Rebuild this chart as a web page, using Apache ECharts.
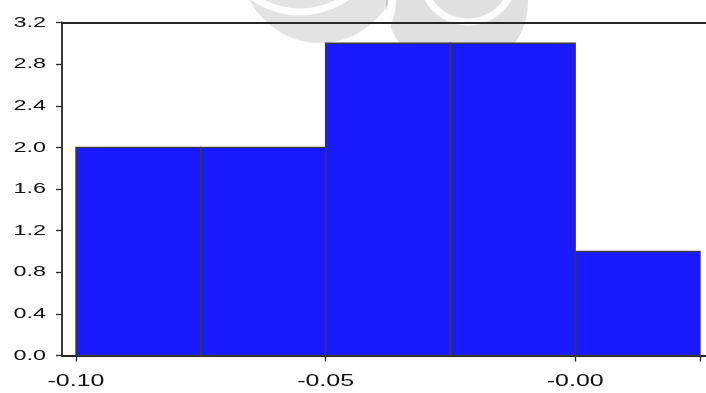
<!DOCTYPE html>
<html>
<head>
<meta charset="utf-8">
<script src="https://cdn.jsdelivr.net/npm/echarts@6/dist/echarts.min.js"></script>
<style>
  html, body { margin: 0; padding: 0; background: #fff; }
  #chart { width: 706px; height: 393px; }
</style>
</head>
<body>
<div id="chart"></div>
<script>
// Histogram bins: left/right edges and counts
const binStarts = [-0.100, -0.075, -0.050, -0.025, 0.000];
const binEnds   = [-0.075, -0.050, -0.025, 0.000, 0.025];
const counts    = [2, 2, 3, 3, 1];

// Axis ticks and their labels
const xTickValues = [-0.10, -0.05, 0.00, 0.025];
const xTickLabels = ['-0.10', '-0.05', '-0.00', ''];
const yTickValues = [0, 0.4, 0.8, 1.2, 1.6, 2.0, 2.4, 2.8, 3.2];
const yTickLabels = ['0.0', '0.4', '0.8', '1.2', '1.6', '2.0', '2.4', '2.8', '3.2'];

const bins = binStarts.map((s, i) => [s, binEnds[i], counts[i]]);

const chart = echarts.init(document.getElementById('chart'), null, { renderer: 'canvas' });

const font = 'Liberation Sans, Arial, sans-serif';
const axisColor = '#262626';
const xMin = -0.1028, xMax = 0.0262;

chart.setOption({
  animation: false,
  backgroundColor: '#ffffff',
  grid: { left: 62, right: 0, top: 22.5, bottom: 37.5, containLabel: false },
  xAxis: [{
    type: 'value', min: xMin, max: xMax, position: 'bottom',
    axisLine: { show: true, onZero: false, lineStyle: { color: axisColor, width: 1.8 } },
    axisTick: { show: true, length: 6, inside: false, customValues: xTickValues,
                lineStyle: { color: axisColor, width: 1.3 } },
    axisLabel: { show: false },
    splitLine: { show: false }
  }, {
    type: 'value', min: xMin, max: xMax, position: 'top',
    axisLine: { show: true, onZero: false, lineStyle: { color: axisColor, width: 1.8 } },
    axisTick: { show: false },
    axisLabel: { show: false },
    splitLine: { show: false }
  }],
  yAxis: {
    type: 'value', min: 0, max: 3.2, interval: 0.4,
    axisLine: { show: true, onZero: false, lineStyle: { color: axisColor, width: 1.8 } },
    axisTick: { show: true, length: 6, inside: false, lineStyle: { color: axisColor, width: 1.3 } },
    axisLabel: { show: false },
    splitLine: { show: false }
  },
  series: [{
    type: 'custom',
    xAxisIndex: 0,
    data: bins,
    encode: { x: [0, 1], y: 2 },
    renderItem: (params, api) => {
      const p0 = api.coord([api.value(0), api.value(2)]);
      const p1 = api.coord([api.value(1), 0]);
      return {
        type: 'rect',
        shape: { x: p0[0], y: p0[1], width: p1[0] - p0[0], height: p1[1] - p0[1] },
        style: { fill: '#1a1aff', stroke: '#3c3c3c', lineWidth: 1.4 }
      };
    }
  }]
});

// Tick labels are drawn in a wide (horizontally stretched) face,
// placed from the axis scales.
const labelScaleX = 1.56;
const labels = [];
yTickValues.forEach((v, i) => {
  const y = chart.convertToPixel({ yAxisIndex: 0 }, v);
  labels.push({
    type: 'text', x: 46, y: y, scaleX: labelScaleX,
    style: { text: yTickLabels[i], font: '15px ' + font, fill: '#111',
             align: 'right', verticalAlign: 'middle' }
  });
});
xTickValues.forEach((v, i) => {
  if (!xTickLabels[i]) return;
  const x = chart.convertToPixel({ xAxisIndex: 0 }, v);
  labels.push({
    type: 'text', x: x, y: 381.5, scaleX: labelScaleX,
    style: { text: xTickLabels[i], font: '16px ' + font, fill: '#111',
             align: 'center', verticalAlign: 'middle' }
  });
});

chart.setOption({
  graphic: [
    { type: 'group', silent: true, children: labels },
    // faint emblem across the top of the page
    {
      type: 'group', z: 100, silent: true,
      children: [
        { type: 'circle', shape: { cx: 320, cy: -36, r: 79 },
          style: { fill: 'rgba(0,0,0,0.11)' } },
        { type: 'arc', shape: { cx: 300, cy: -70, r: 82, startAngle: 0.6, endAngle: 2.4 },
          style: { stroke: '#ffffff', lineWidth: 7, fill: null } },
        { type: 'circle', shape: { cx: 457, cy: 2, r: 71 },
          style: { fill: 'rgba(0,0,0,0.12)' } },
        { type: 'arc', shape: { cx: 468, cy: -24, r: 46, startAngle: 0.3, endAngle: 2.9 },
          style: { stroke: '#ffffff', opacity: 0.9, lineWidth: 7, fill: null } },
        { type: 'arc', shape: { cx: 330, cy: 0, r: 62, startAngle: -0.4, endAngle: 0.8 },
          style: { stroke: '#ffffff', opacity: 0.9, lineWidth: 8, fill: null } }
      ]
    }
  ]
});
</script>
</body>
</html>
